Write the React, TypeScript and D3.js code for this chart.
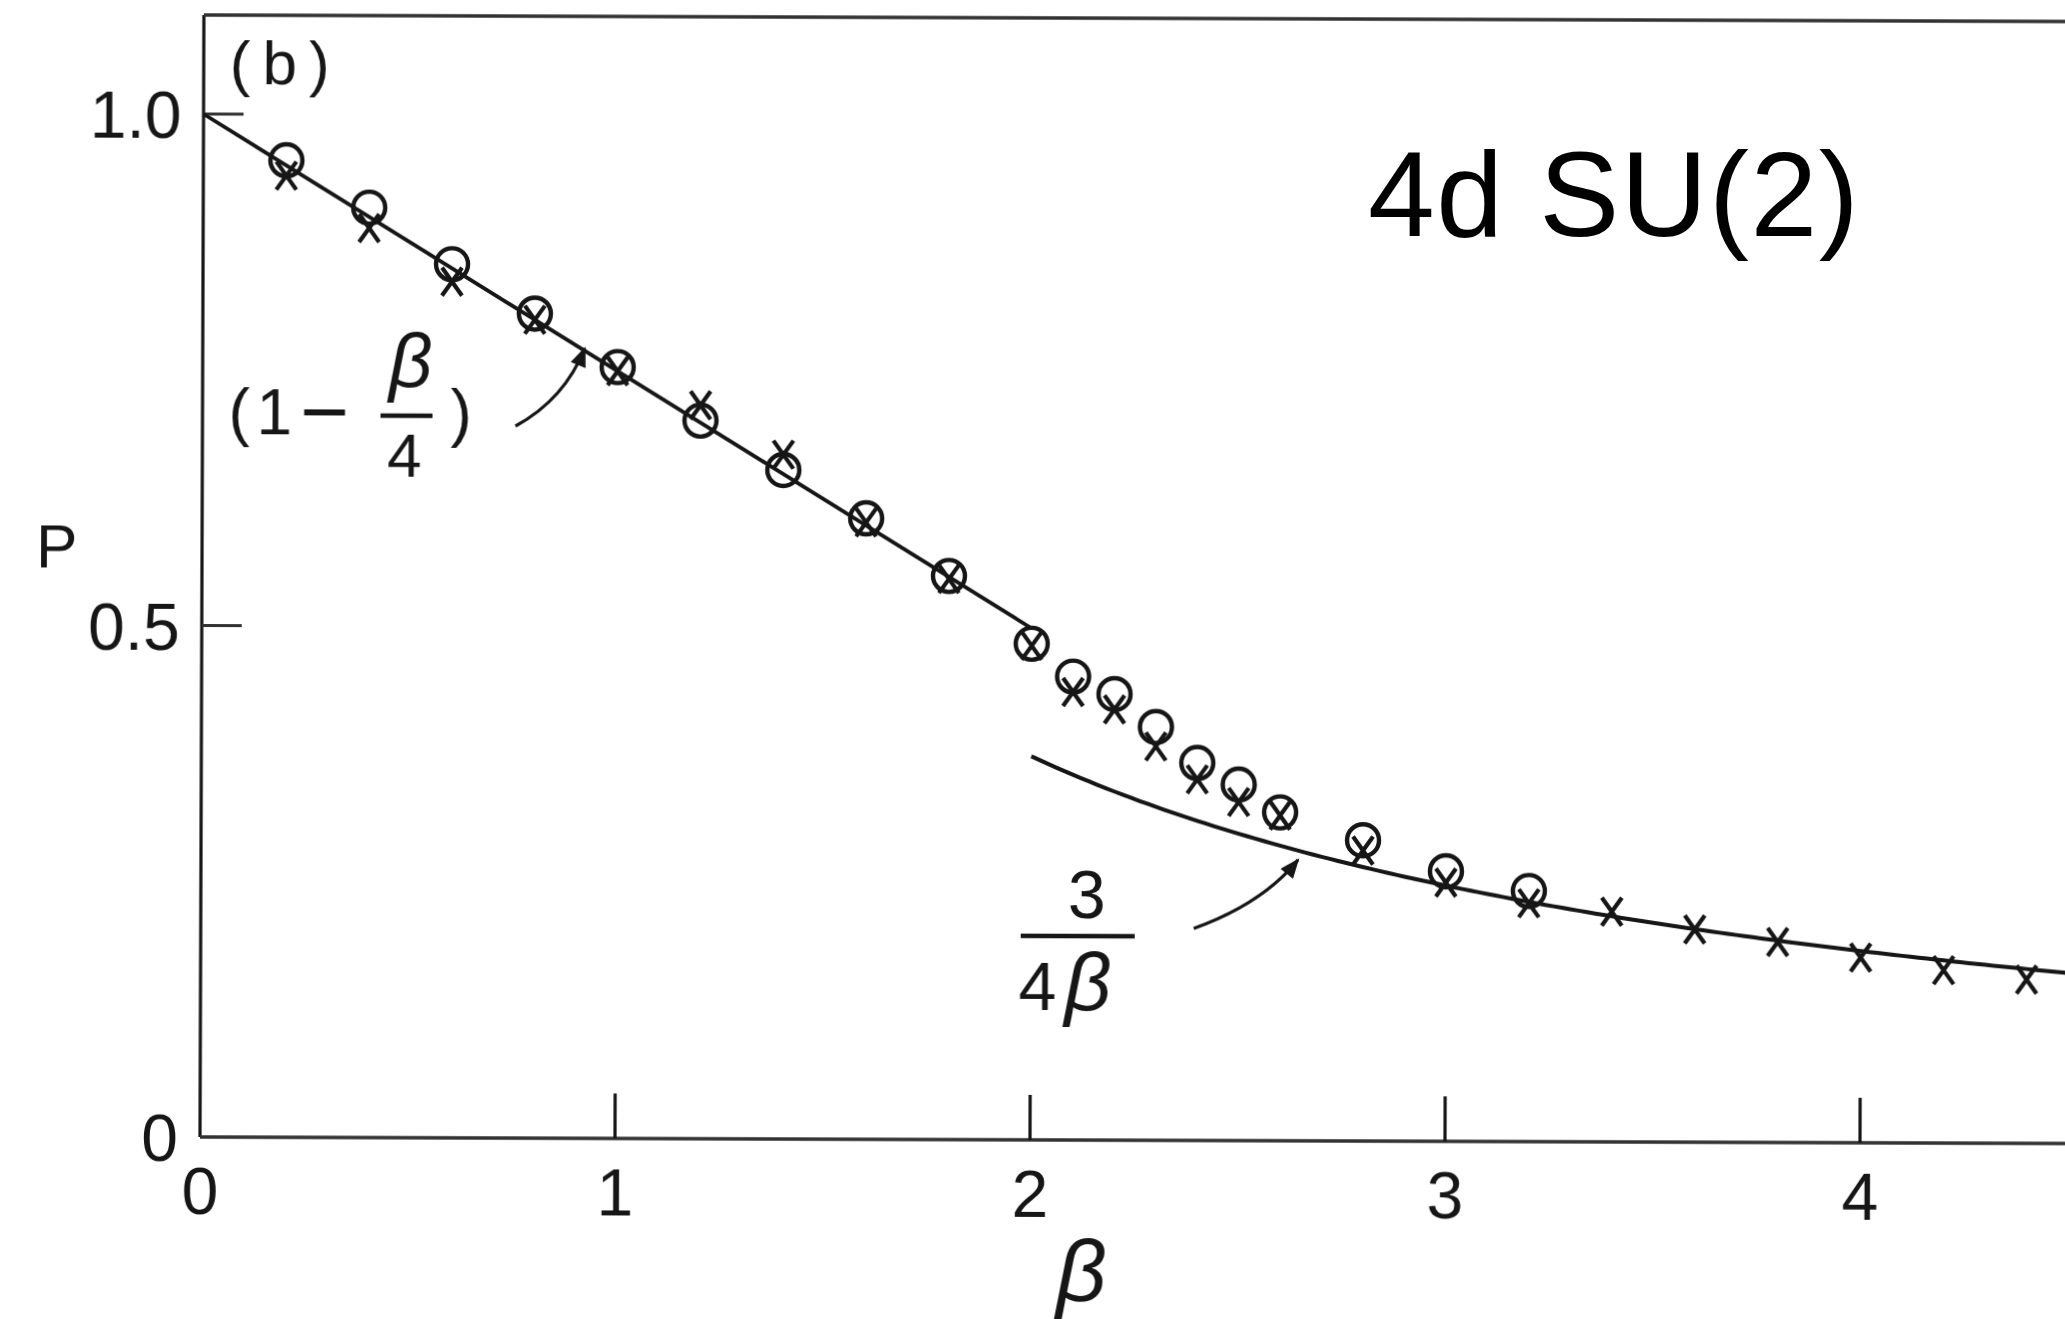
import React from 'react';
import * as d3 from 'd3';

const W = 2065;
const H = 1319;

// Monte Carlo measurements, circle symbols
const betaCircles = [0.2, 0.4, 0.6, 0.8, 1.0, 1.2, 1.4, 1.6, 1.8, 2.0, 2.1, 2.2, 2.3, 2.4, 2.5, 2.6, 2.8, 3.0, 3.2];
const pCircles = [0.955, 0.909, 0.854, 0.806, 0.754, 0.702, 0.654, 0.607, 0.551, 0.485, 0.453, 0.436, 0.404, 0.369, 0.348, 0.321, 0.294, 0.264, 0.245];

// Monte Carlo measurements, cross symbols
const betaCrosses = [0.2, 0.4, 0.6, 0.8, 1.0, 1.2, 1.4, 1.6, 1.8, 2.0, 2.1, 2.2, 2.3, 2.4, 2.5, 2.6, 2.8, 3.0, 3.2, 3.4, 3.6, 3.8, 4.0, 4.2, 4.4];
const pCrosses = [0.940, 0.889, 0.837, 0.800, 0.750, 0.717, 0.669, 0.603, 0.548, 0.483, 0.438, 0.421, 0.385, 0.353, 0.331, 0.318, 0.284, 0.253, 0.233, 0.225, 0.208, 0.196, 0.181, 0.169, 0.160];

const xTicks = [0, 1, 2, 3, 4];
const xTickLabels = ['0', '1', '2', '3', '4'];
const yTicks = [0, 0.5, 1.0];
const yTickLabels = ['0', '0.5', '1.0'];

// ranges over which the strong / weak coupling expansions are drawn
const strongRange = [0, 2.0];
const weakRange = [2.0, 4.55];

const INK = '#141414';
const FONT = '"Liberation Sans", Arial, Helvetica, sans-serif';

export default function App() {
  const x = d3.scaleLinear().domain([0, 4.5]).range([200, 200 + 4.5 * 415]);
  const y = d3.scaleLinear().domain([0, 1]).range([1137, 114]);

  const line = d3
    .line<[number, number]>()
    .x((d) => x(d[0]))
    .y((d) => y(d[1]))
    .curve(d3.curveLinear);

  const strong: [number, number][] = [strongRange[0], strongRange[1]].map((b) => [b, 1 - b / 4]);
  const weak: [number, number][] = d3
    .range(weakRange[0], weakRange[1] + 1e-9, 0.02)
    .map((b) => [b, 3 / (4 * b)]);

  const x0 = x(0);
  const yBase = y(0);
  const topY = 15;

  return (
    <svg
      width={W}
      height={H}
      viewBox={`0 0 ${W} ${H}`}
      style={{ position: 'absolute', left: 0, top: 0, display: 'block', background: '#fff' }}
      fontFamily={FONT}
    >
      <defs>
        <filter id="soft" x="-5%" y="-5%" width="110%" height="110%">
          <feGaussianBlur stdDeviation="0.7" />
        </filter>
        <marker
          id="head"
          viewBox="0 0 10 8"
          refX="9"
          refY="4"
          markerUnits="userSpaceOnUse"
          markerWidth="26"
          markerHeight="16"
          orient="auto"
        >
          <path d="M0,0 L10,4 L0,8 Z" fill={INK} />
        </marker>
      </defs>
      <rect x={0} y={0} width={W} height={H} fill="#fff" />

      <g transform={`rotate(0.2, ${x0}, ${yBase})`} filter="url(#soft)">
        {/* frame: left axis, bottom axis, top border */}
        <line x1={x0} y1={topY} x2={x0} y2={yBase} stroke={INK} strokeWidth={3.2} />
        <line x1={x0} y1={yBase} x2={W + 30} y2={yBase} stroke="#333" strokeWidth={3.4} />
        <line x1={x0} y1={topY} x2={W + 30} y2={topY} stroke="#333" strokeWidth={3.4} />

        {/* x ticks (inward) */}
        {xTicks.filter((t) => t > 0).map((t) => (
          <line key={`xt${t}`} x1={x(t)} y1={yBase} x2={x(t)} y2={yBase - 45} stroke={INK} strokeWidth={3.2} />
        ))}
        {xTicks.map((t, i) => (
          <text key={`xl${t}`} x={x(t)} y={yBase + 77} fontSize={66} textAnchor="middle" fill={INK}>
            {xTickLabels[i]}
          </text>
        ))}

        {/* y ticks (inward) */}
        {yTicks.filter((t) => t > 0).map((t) => (
          <line key={`yt${t}`} x1={x0} y1={y(t)} x2={x0 + 40} y2={y(t)} stroke="#333" strokeWidth={3.2} />
        ))}
        {yTicks.map((t, i) => (
          <text key={`yl${t}`} x={x0 - 22} y={y(t) + 24} fontSize={66} textAnchor="end" fill={INK}>
            {yTickLabels[i]}
          </text>
        ))}

        {/* axis titles */}
        <text x={34} y={568} fontSize={62} fill={INK}>P</text>
        <text x={1082} y={1298} fontSize={88} fontStyle="italic" textAnchor="middle" fill={INK}>β</text>
        <text x={226} y={84} fontSize={62} letterSpacing={12} fill={INK}>(b)</text>

        {/* strong coupling line and weak coupling curve */}
        <path d={line(strong) ?? ''} fill="none" stroke={INK} strokeWidth={3.8} />
        <path d={line(weak) ?? ''} fill="none" stroke={INK} strokeWidth={4} />

        {/* circle data */}
        {betaCircles.map((b, i) => (
          <circle key={`c${i}`} cx={x(b)} cy={y(pCircles[i])} r={16} fill="none" stroke={INK} strokeWidth={4.4} />
        ))}

        {/* cross data */}
        {betaCrosses.map((b, i) => {
          const cx = x(b);
          const cy = y(pCrosses[i]);
          const hw = 10;
          const hh = 14;
          return (
            <path
              key={`x${i}`}
              d={`M${cx - hw},${cy - hh} L${cx + hw},${cy + hh} M${cx + hw},${cy - hh} L${cx - hw},${cy + hh}`}
              stroke={INK}
              strokeWidth={4.2}
              fill="none"
            />
          );
        })}

        {/* label (1 − β/4) with arrow */}
        <text x={226} y={434} fontSize={64} fill={INK}>(</text>
        <text x={254} y={434} fontSize={64} fill={INK}>1</text>
        <text x={322} y={440} fontSize={84} textAnchor="middle" fill={INK}>−</text>
        <text x={408} y={386} fontSize={76} fontStyle="italic" textAnchor="middle" fill={INK}>β</text>
        <line x1={378} y1={415} x2={430} y2={415} stroke={INK} strokeWidth={4.4} />
        <text x={402} y={476} fontSize={62} textAnchor="middle" fill={INK}>4</text>
        <text x={448} y={434} fontSize={64} fill={INK}>)</text>
        <path d="M513,425 Q562,398 582,347" fill="none" stroke={INK} strokeWidth={3.2} markerEnd="url(#head)" />

        {/* label 3/(4β) with arrow */}
        <text x={1086} y={915} fontSize={68} textAnchor="middle" fill={INK}>3</text>
        <line x1={1020} y1={933} x2={1134} y2={933} stroke={INK} strokeWidth={4.4} />
        <text x={1018} y={1007} fontSize={68} fill={INK}>4</text>
        <text x={1064} y={1007} fontSize={82} fontStyle="italic" fill={INK}>β</text>
        <path d="M1193,925 Q1262,900 1297,856" fill="none" stroke={INK} strokeWidth={3.2} markerEnd="url(#head)" />
      </g>

      {/* panel caption */}
      <text x={1368} y={236} fontSize={120} letterSpacing={1.5} fill="#000">4d SU(2)</text>
    </svg>
  );
}
